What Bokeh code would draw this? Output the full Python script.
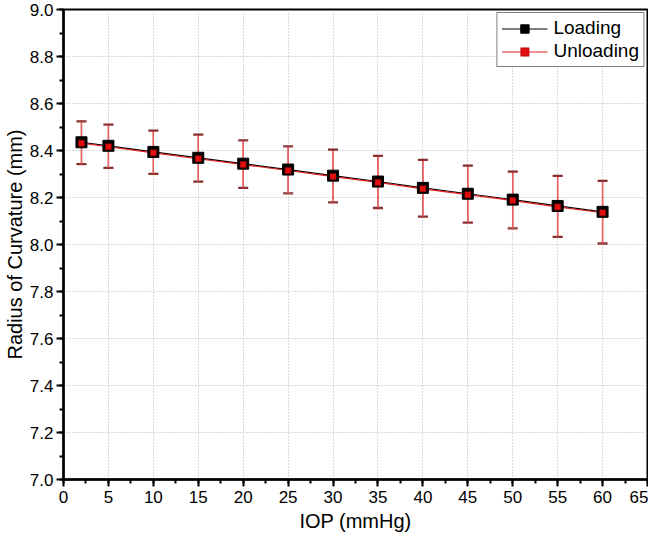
from bokeh.plotting import figure
from bokeh.models import (ColumnDataSource, Whisker, TeeHead, SingleIntervalTicker,
                          NumeralTickFormatter, Legend, LegendItem, Range1d)
from bokeh.embed import file_html
from bokeh.resources import INLINE

# ---- data ----
iop = [2, 5, 10, 15, 20, 25, 30, 35, 40, 45, 50, 55, 60]
loading = [8.435, 8.420, 8.394, 8.369, 8.344, 8.319, 8.293, 8.268, 8.241, 8.216, 8.191, 8.164, 8.139]
unloading = [8.431, 8.416, 8.390, 8.365, 8.340, 8.315, 8.289, 8.264, 8.237, 8.212, 8.187, 8.160, 8.135]
loading_sd = [0.091, 0.092, 0.092, 0.100, 0.101, 0.100, 0.112, 0.111, 0.121, 0.121, 0.121, 0.130, 0.133]
unloading_sd = [0.091, 0.092, 0.092, 0.100, 0.101, 0.100, 0.112, 0.111, 0.121, 0.121, 0.121, 0.130, 0.133]

src_l = ColumnDataSource(dict(
    x=iop, y=loading,
    lo=[v - s for v, s in zip(loading, loading_sd)],
    hi=[v + s for v, s in zip(loading, loading_sd)]))
src_u = ColumnDataSource(dict(
    x=iop, y=unloading,
    lo=[v - s for v, s in zip(unloading, unloading_sd)],
    hi=[v + s for v, s in zip(unloading, unloading_sd)]))

FONT = "Liberation Sans"

p = figure(width=648, height=541, output_backend="svg", toolbar_location=None,
           x_range=Range1d(0, 65), y_range=Range1d(7.0, 9.0),
           min_border_left=56, min_border_right=1, min_border_top=9, min_border_bottom=62)

p.background_fill_color = "white"
p.border_fill_color = "white"
p.outline_line_color = "black"
p.outline_line_width = 2
p.outline_line_alpha = 1

# axes
p.xaxis.ticker = SingleIntervalTicker(interval=5, num_minor_ticks=2)
p.yaxis.ticker = SingleIntervalTicker(interval=0.2, num_minor_ticks=2)
p.yaxis.formatter = NumeralTickFormatter(format="0.0")
for ax in (p.xaxis[0], p.yaxis[0]):
    ax.axis_line_width = 2.5
    ax.axis_line_color = "black"
    ax.major_tick_line_width = 2
    ax.minor_tick_line_width = 2
    ax.major_tick_in = 0
    ax.major_tick_out = 7
    ax.minor_tick_in = 0
    ax.minor_tick_out = 4
    ax.major_label_text_font = FONT
    ax.major_label_text_font_size = "17px"
    ax.major_label_text_color = "black"
    ax.axis_label_text_font = FONT
    ax.axis_label_text_font_size = "20px"
    ax.axis_label_text_font_style = "normal"
    ax.axis_label_text_color = "black"
p.xaxis.axis_label = "IOP (mmHg)"
p.yaxis.axis_label = "Radius of Curvature (mm)"
p.xaxis.major_label_standoff = 4
p.xaxis.axis_label_standoff = 4
p.yaxis.major_label_standoff = 3
p.yaxis.axis_label_standoff = 1

# grid
for g in (p.xgrid[0], p.ygrid[0]):
    g.grid_line_color = "#b5b5b5"
    g.grid_line_dash = "1 2"
    g.grid_line_width = 1

# lines
rl = p.line("x", "y", source=src_l, line_color="black", line_width=1.2)
ru = p.line("x", "y", source=src_u, line_color="#e02020", line_width=1.2)

# error bars
w_l = Whisker(source=src_l, base="x", lower="lo", upper="hi",
              line_color="#e05555", line_width=1.5,
              upper_head=TeeHead(size=10, line_color="#7a2a2a", line_width=1.5),
              lower_head=TeeHead(size=10, line_color="#7a2a2a", line_width=1.5))
w_u = Whisker(source=src_u, base="x", lower="lo", upper="hi",
              line_color="#e86060", line_width=1.2,
              upper_head=TeeHead(size=10, line_color="#9a3030", line_width=1.2),
              lower_head=TeeHead(size=10, line_color="#9a3030", line_width=1.2))
p.add_layout(w_l)
p.add_layout(w_u)

# markers
ml = p.scatter("x", "y", source=src_l, marker="square", size=11,
               fill_color="black", line_color="black")
mu = p.scatter("x", "y", source=src_u, marker="square", size=6,
               fill_color="#e01010", line_color="#a00000", line_width=0.5)

legend = Legend(items=[
    LegendItem(label="Loading", renderers=[rl, ml]),
    LegendItem(label="Unloading", renderers=[ru, mu]),
], location="top_right")
legend.label_text_font = FONT
legend.label_text_font_size = "19px"
legend.label_text_color = "black"
legend.glyph_width = 46
legend.glyph_height = 21
legend.label_standoff = 6
legend.spacing = 1
legend.padding = 4
legend.margin = 3
legend.border_line_color = "black"
legend.border_line_width = 1
legend.background_fill_color = "white"
legend.background_fill_alpha = 1
p.add_layout(legend)

open("out.html", "w").write(file_html(p, INLINE))
